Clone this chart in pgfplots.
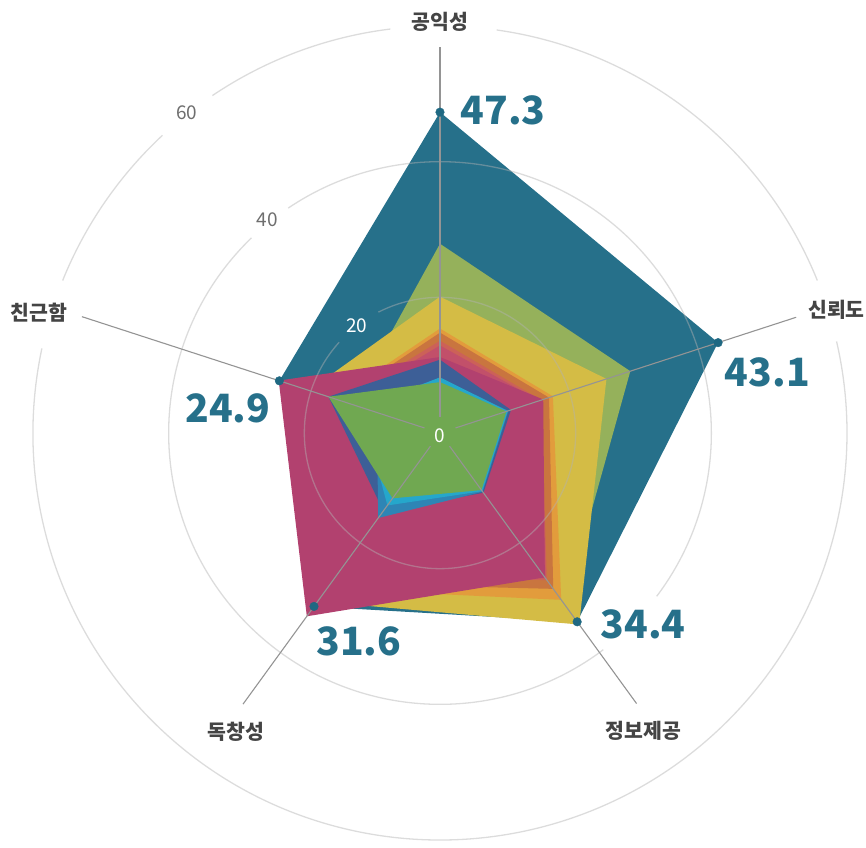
\documentclass[border=0pt]{standalone}
\usepackage{pgfplots}
\pgfplotsset{compat=1.18}
\usepgfplotslibrary{polar}
\usetikzlibrary{calc}
\usepackage{fontspec}
\newfontfamily\kr{Noto Sans CJK KR}
\definecolor{cTeal}{HTML}{26708A}
\definecolor{cDot}{HTML}{1F6882}
\definecolor{cOlive}{HTML}{95B15B}
\definecolor{cYellow}{HTML}{D4BC45}
\definecolor{cLOrange}{HTML}{E29C3C}
\definecolor{cDOrange}{HTML}{C9753F}
\definecolor{cRed}{HTML}{CC6158}
\definecolor{cPink}{HTML}{C2506A}
\definecolor{cMagenta}{HTML}{B2416F}
\definecolor{cDBlue}{HTML}{3D5F97}
\definecolor{cSBlue}{HTML}{2E85B5}
\definecolor{cCyan}{HTML}{25A7CB}
\definecolor{cGreen}{HTML}{70A851}
\definecolor{cLabel}{HTML}{444444}
\definecolor{cTick}{HTML}{6E6E6E}
\tikzset{gridc/.style={draw=gray!60, draw opacity=0.45, line width=1.3pt},
         spoke/.style={draw=black!42, line width=1.1pt}}
\newcommand{\garc}[3]{\draw[gridc] let \p1=($(axis cs:0,#3)-(axis cs:0,0)$), \n1={veclen(\x1,\y1)} in (axis cs:#1,#3) arc[start angle=#1, end angle=#2, radius=\n1];}
\begin{document}
\begin{tikzpicture}
\begin{polaraxis}[hide axis, scale only axis, width=814pt, height=814pt,
  xmin=0, xmax=360, ymin=0, ymax=60, clip=false]
\coordinate (c) at (axis cs:0,0);
% series: angles 90 (공익성), 18 (신뢰도), 306 (정보제공), 234 (독창성), 162 (친근함)
\addplot[draw=none, fill=cTeal] coordinates {(90,47.3) (18,43.1) (306,34.4) (234,31.6) (162,24.9) (90,47.3)};
\addplot[draw=none, fill=cOlive] coordinates {(90,27.9) (18,29.5) (306,31.4) (234,30.4) (162,13.7) (90,27.9)};
\addplot[draw=none, fill=cYellow] coordinates {(90,20.1) (18,25.8) (306,34.9) (234,30.7) (162,20.3) (90,20.1)};
\addplot[draw=none, fill=cLOrange] coordinates {(90,15.4) (18,17.5) (306,30.4) (234,28.4) (162,16.2) (90,15.4)};
\addplot[draw=none, fill=cDOrange] coordinates {(90,14.8) (18,16.9) (306,28.4) (234,27.4) (162,15.7) (90,14.8)};
\addplot[draw=none, fill=cRed] coordinates {(90,13.6) (18,15.7) (306,26.8) (234,26.3) (162,15.2) (90,13.6)};
\addplot[draw=none, fill=cPink] coordinates {(90,12.9) (18,15.4) (306,26.5) (234,25.3) (162,14.7) (90,12.9)};
\addplot[draw=none, fill=cMagenta] coordinates {(90,11.2) (18,16.0) (306,26.3) (234,33.4) (162,25.0) (90,11.2)};
\addplot[draw=none, fill=cDBlue] coordinates {(90,10.8) (18,11.0) (306,10.9) (234,14.2) (162,17.3) (90,10.8)};
\addplot[draw=none, fill=cSBlue] coordinates {(90,7.9) (18,10.6) (306,10.7) (234,15.5) (162,9.8) (90,7.9)};
\addplot[draw=none, fill=cCyan] coordinates {(90,8.2) (18,10.5) (306,10.6) (234,13.2) (162,12.2) (90,8.2)};
\addplot[draw=none, fill=cGreen] coordinates {(90,7.5) (18,10.3) (306,10.4) (234,11.9) (162,17.3) (90,7.5)};
% grid circles with gaps
\garc{138}{477}{20}
\garc{134}{307}{40}
\garc{323}{484}{40}
\garc{133}{158}{60}
\garc{168}{373}{60}
\garc{22}{82}{60}
\garc{97}{124}{60}
% spokes
\draw[spoke] (axis cs:90,2.4) -- (axis cs:90,56.9);
\draw[spoke] (axis cs:18,2.4) -- (axis cs:18,55.2);
\draw[spoke] (axis cs:306,2.4) -- (axis cs:306,49.3);
\draw[spoke] (axis cs:234,2.4) -- (axis cs:234,49.4);
\draw[spoke] (axis cs:162,2.4) -- (axis cs:162,55.5);
% dots
\addplot[only marks, mark=*, mark size=4.3pt, mark options={fill=cDot, draw=cDot}] coordinates {(90,47.3) (18,43.1) (306,34.4) (234,31.6) (162,24.9)};
% tick labels
\node[text=white, font=\kr\fontsize{19}{22}\selectfont, yshift=-2.5pt] at (axis cs:0,0) {0};
\node[text=white, font=\kr\fontsize{19}{22}\selectfont] at (axis cs:127.8,20) {20};
\node[text=cTick, font=\kr\fontsize{19}{22}\selectfont] at (axis cs:129,40.4) {40};
\node[text=cTick, font=\kr\fontsize{19}{22}\selectfont] at (axis cs:128.3,60.2) {60};
% category labels
\node[text=cLabel, font=\kr\bfseries\fontsize{20.5}{24}\selectfont] at (axis cs:90,60.6) {공익성};
\node[text=cLabel, font=\kr\bfseries\fontsize{20.5}{24}\selectfont] at (axis cs:17.25,61.2) {신뢰도};
\node[text=cLabel, font=\kr\bfseries\fontsize{20.5}{24}\selectfont] at (axis cs:163.3,61.7) {친근함};
\node[text=cLabel, font=\kr\bfseries\fontsize{20.5}{24}\selectfont] at (axis cs:235.6,53.3) {독창성};
\node[text=cLabel, font=\kr\bfseries\fontsize{20.5}{24}\selectfont] at (axis cs:304.3,53.2) {정보제공};
% value labels
\node[text=cTeal, font=\kr\bfseries\fontsize{39}{45}\selectfont] at (axis cs:78.93,48.4) {47.3};
\node[text=cTeal, font=\kr\bfseries\fontsize{39}{45}\selectfont] at (axis cs:10.57,49.1) {43.1};
\node[text=cTeal, font=\kr\bfseries\fontsize{39}{45}\selectfont] at (axis cs:316.75,41.1) {34.4};
\node[text=cTeal, font=\kr\bfseries\fontsize{39}{45}\selectfont] at (axis cs:248.7,32.9) {31.6};
\node[text=cTeal, font=\kr\bfseries\fontsize{39}{45}\selectfont] at (axis cs:173.3,31.5) {24.9};
\end{polaraxis}
\pgfresetboundingbox
\path[use as bounding box] ($(c)+(-440pt,-414pt)$) rectangle ($(c)+(426pt,433pt)$);
\end{tikzpicture}
\end{document}
